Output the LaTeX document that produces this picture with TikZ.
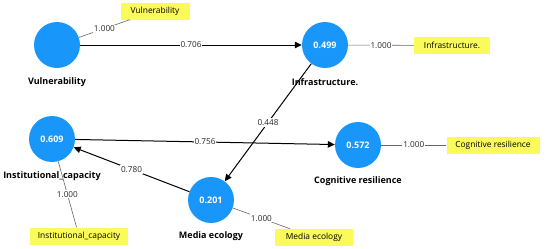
\documentclass[tikz,border=0pt]{standalone}
\usepackage{fontspec}
\setmainfont{Open Sans}
\usetikzlibrary{arrows.meta}
\definecolor{lvblue}{RGB}{25,150,250}
\definecolor{boxyellow}{RGB}{250,250,90}
\tikzset{
  lv/.style={circle,fill=lvblue,minimum size=46pt,inner sep=0pt,text=white,font=\fontsize{9}{10}\selectfont\bfseries},
  lvname/.style={font=\fontsize{9}{10}\selectfont\bfseries,inner sep=1pt},
  ind/.style={rectangle,fill=boxyellow,inner sep=0pt,minimum height=17pt,font=\fontsize{8.4}{9}\selectfont},
  path/.style={draw=black,line width=1pt,-{Triangle[width=6.5pt,length=7pt]}},
  load/.style={draw=gray!80!black,line width=0.6pt},
  coef/.style={fill=white,inner sep=1pt,font=\fontsize{8.2}{9}\selectfont,text=black!85}
}
\begin{document}
\begin{tikzpicture}[x=1pt,y=-1pt]
\useasboundingbox (0,0) rectangle (550,249);
% latent variables
\node[lv] (vul) at (57,45) {};
\node[lv] (inf) at (325,45) {0.499};
\node[lv] (ins) at (52,139) {0.609};
\node[lv] (med) at (211,200) {0.201};
\node[lv] (cog) at (358,145) {0.572};
% indicator boxes
\node[ind,minimum width=69pt] (vulb) at (155,11) {Vulnerability};
\node[ind,minimum width=76pt] (infb) at (452,45.5) {Infrastructure.};
\node[ind,minimum width=93pt] (cogb) at (493,145) {Cognitive resilience};
\node[ind,minimum width=98pt] (insb) at (79,236) {Institutional\_capacity};
\node[ind,minimum width=78pt] (medb) at (314,237.5) {Media ecology};
% loadings
\draw[load] (vul) -- node[coef]{1.000} (vulb);
\draw[load] (inf) -- node[coef]{1.000} (infb);
\draw[load] (cog) -- node[coef]{1.000} (cogb);
\draw[load] (ins) -- node[coef]{1.000} (insb);
\draw[load] (med) -- node[coef]{1.000} (medb);
% structural paths
\draw[path] (vul) -- node[coef]{0.706} (inf);
\draw[path] (ins) -- node[coef]{0.756} (cog);
\draw[path] (med) -- node[coef]{0.780} (ins);
% names
\node[lvname] (vuln) at (57,82) {Vulnerability};
\node[lvname] (infn) at (325,82) {Infrastructure.};
\node[lvname] (insn) at (52,176) {Institutional\_capacity};
\node[lvname] (medn) at (211,236) {Media ecology};
\node[lvname] (cogn) at (358,181) {Cognitive resilience};
\draw[path] (inf) -- node[coef]{0.448} (med);
\end{tikzpicture}
\end{document}
